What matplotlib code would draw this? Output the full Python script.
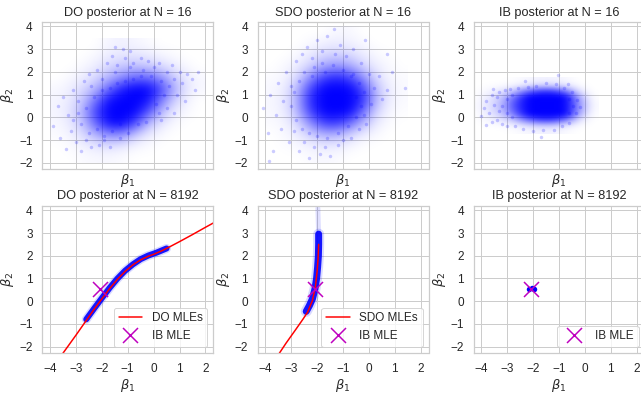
import numpy as np
import matplotlib
matplotlib.use("Agg")
import matplotlib.pyplot as plt
import seaborn as sns

#
# Posterior density levels (0 = empty, 1 = solid blue),
# rows listed top to bottom, cells of 0.5 in beta_1
#

# DO posterior, N = 16: x centres -3.75 .. 1.75, y centres 3.25 .. -1.75
do16_extent = [-4.0, 2.0, -2.0, 3.5]
do16_density = [
    [0, 0, 0, 0, 0.04, 0.06, 0.04, 0.02, 0, 0, 0, 0],
    [0, 0, 0, 0.03, 0.07, 0.10, 0.10, 0.08, 0.04, 0.02, 0, 0],
    [0, 0, 0.03, 0.07, 0.15, 0.22, 0.25, 0.22, 0.15, 0.08, 0.03, 0],
    [0, 0.03, 0.07, 0.15, 0.30, 0.45, 0.60, 0.60, 0.45, 0.22, 0.08, 0.03],
    [0.03, 0.06, 0.15, 0.30, 0.60, 0.90, 1.00, 1.00, 0.75, 0.35, 0.10, 0.03],
    [0.04, 0.08, 0.22, 0.55, 0.95, 1.00, 1.00, 0.95, 0.55, 0.20, 0.05, 0],
    [0.04, 0.10, 0.30, 0.75, 1.00, 1.00, 1.00, 0.70, 0.30, 0.08, 0.03, 0],
    [0.03, 0.08, 0.22, 0.60, 0.95, 1.00, 0.75, 0.30, 0.10, 0.03, 0, 0],
    [0.02, 0.04, 0.14, 0.30, 0.45, 0.45, 0.22, 0.08, 0.03, 0, 0, 0],
    [0, 0.02, 0.05, 0.09, 0.12, 0.09, 0.04, 0.02, 0, 0, 0, 0],
    [0, 0, 0.02, 0.03, 0.03, 0.02, 0, 0, 0, 0, 0, 0],
]

# SDO posterior, N = 16: x centres -3.75 .. 1.25, y centres 3.75 .. -1.75
sdo16_extent = [-4.0, 1.5, -2.0, 4.0]
sdo16_density = [
    [0, 0, 0, 0, 0, 0.03, 0.03, 0, 0, 0, 0],
    [0, 0, 0, 0.03, 0.06, 0.08, 0.06, 0.03, 0, 0, 0],
    [0, 0, 0.03, 0.08, 0.15, 0.18, 0.15, 0.08, 0.03, 0.01, 0],
    [0, 0.03, 0.07, 0.18, 0.35, 0.42, 0.35, 0.18, 0.07, 0.03, 0],
    [0.02, 0.04, 0.15, 0.45, 0.75, 0.85, 0.75, 0.45, 0.15, 0.04, 0.02],
    [0.03, 0.07, 0.28, 0.75, 1.00, 1.00, 1.00, 0.75, 0.28, 0.07, 0.02],
    [0.03, 0.08, 0.32, 0.85, 1.00, 1.00, 1.00, 0.85, 0.30, 0.07, 0.02],
    [0.03, 0.07, 0.28, 0.75, 1.00, 1.00, 1.00, 0.60, 0.18, 0.04, 0.01],
    [0.02, 0.04, 0.15, 0.45, 0.75, 0.80, 0.60, 0.30, 0.08, 0.02, 0],
    [0, 0.03, 0.07, 0.18, 0.30, 0.30, 0.18, 0.07, 0.03, 0, 0],
    [0, 0.01, 0.03, 0.06, 0.08, 0.08, 0.04, 0.01, 0, 0, 0],
    [0, 0, 0, 0.02, 0.03, 0.02, 0, 0, 0, 0, 0],
]

# IB posterior, N = 16: x centres -4.25 .. 0.25, y centres 1.625 .. -0.625 (step 0.25)
ib16_extent = [-4.5, 0.5, -0.75, 1.75]
ib16_density = [
    [0, 0, 0, 0.01, 0.03, 0.05, 0.05, 0.03, 0, 0],
    [0, 0.01, 0.02, 0.05, 0.12, 0.18, 0.18, 0.10, 0.02, 0],
    [0, 0.04, 0.10, 0.25, 0.60, 0.80, 0.80, 0.55, 0.10, 0],
    [0, 0.08, 0.20, 0.55, 1.00, 1.00, 1.00, 1.00, 0.30, 0],
    [0.01, 0.10, 0.25, 0.70, 1.00, 1.00, 1.00, 1.00, 0.40, 0.01],
    [0.01, 0.10, 0.25, 0.70, 1.00, 1.00, 1.00, 1.00, 0.40, 0.01],
    [0, 0.08, 0.20, 0.55, 1.00, 1.00, 1.00, 1.00, 0.30, 0],
    [0, 0.04, 0.10, 0.25, 0.60, 0.80, 0.80, 0.55, 0.10, 0],
    [0, 0.01, 0.02, 0.05, 0.14, 0.20, 0.20, 0.10, 0.02, 0],
    [0, 0, 0, 0.01, 0.03, 0.05, 0.05, 0.02, 0, 0],
]

# single faint samples seen around the dense parts
do16_dots = [(-2.8, -0.3), (-2.6, 0.4), (-2.5, -0.7), (-2.3, 0.9), (-2.2, -0.5), (-2.0, 1.2),
             (-1.9, -0.8), (-1.7, 1.3), (-1.6, -0.6), (-1.4, 1.5), (-1.3, -0.3), (-1.1, 1.6),
             (-0.8, 1.7), (-0.5, 1.8), (-0.1, 1.8), (0.1, 0.6), (0.3, 1.6), (0.4, 1.0),
             (0.6, 1.4), (0.8, 1.7), (0.5, 2.0), (-2.9, 0.2), (-3.1, -0.1), (-1.5, 2.0),
             (-0.9, 2.2), (-2.4, 1.4), (0.2, 0.2),
             (-3.9, -0.4), (-3.7, 0.5), (-3.6, -0.9), (-3.5, 0.9), (-3.4, -1.4), (-3.3, 0.1),
             (-3.2, -0.6), (-3.1, 1.2), (-3.0, -1.1), (-2.9, 0.7), (-2.8, -1.5), (-2.7, 1.6),
             (-2.6, -1.0), (-2.5, 1.9), (-2.4, -1.3), (-2.2, 2.1), (-2.1, -1.2), (-2.0, 1.7),
             (-1.9, -1.0), (-1.8, 2.4), (-1.7, -1.3), (-1.6, 2.7), (-1.5, 3.1), (-1.4, 2.3),
             (-1.3, -0.9), (-1.2, 3.0), (-1.1, 2.6), (-1.0, -0.7), (-0.9, 2.9), (-0.8, 2.4),
             (-0.6, -0.3), (-0.5, 2.6), (-0.4, 2.1), (-0.3, -0.2), (-0.2, 2.5), (0.0, 2.2),
             (0.2, 2.4), (0.3, -0.1), (0.5, 0.4), (0.7, 2.3), (0.9, 1.0), (1.0, 2.0), (1.1, 1.5),
             (1.3, 1.9), (1.5, 1.7), (1.7, 2.0), (1.2, 0.7), (0.8, 0.2), (1.6, 1.2)]
sdo16_dots = [(-3.0, 0.5), (-2.9, 1.1), (-2.8, -0.1), (-2.7, 1.6), (-2.6, -0.5), (-2.5, 2.0),
              (-2.3, -0.7), (-2.1, 2.2), (-2.0, -0.8), (-1.8, 2.4), (-1.6, -0.9), (-1.4, 2.3),
              (-1.2, -0.7), (-1.0, 2.1), (-0.8, -0.4), (-0.6, 1.9), (-0.5, 0.0), (-0.4, 1.5),
              (-0.3, 0.5), (-0.2, 1.1), (-0.5, 0.9), (-1.7, 2.0), (-2.2, 1.8), (-0.7, 1.8),
              (-4.1, 0.4), (-3.9, -0.7), (-3.8, 1.0), (-3.6, 0.1), (-3.5, 1.5), (-3.4, -0.5),
              (-3.3, 0.7), (-3.2, 2.0), (-3.1, -1.1), (-3.0, 1.4), (-2.9, -0.6), (-2.8, 2.5),
              (-2.7, -1.5), (-2.6, 2.8), (-2.5, -1.1), (-2.4, 3.1), (-2.3, -1.8), (-2.2, 2.6),
              (-2.1, -1.3), (-2.0, 3.4), (-1.9, -1.6), (-1.8, 2.9), (-1.7, -1.3), (-1.6, 3.6),
              (-1.5, -1.7), (-1.35, 3.9), (-1.3, 2.8), (-1.2, -1.2), (-1.1, 3.2), (-1.0, -1.0),
              (-0.9, 2.7), (-0.7, -0.9), (-0.6, 3.0), (-0.4, -0.5), (-0.3, 2.4), (-0.2, 0.1),
              (0.0, 1.9), (0.1, 0.6), (0.2, 1.3), (0.4, 1.8), (0.5, 0.8), (0.7, 1.2), (0.9, 2.0),
              (1.4, 1.3), (-0.1, -0.3), (-3.7, -1.5), (-3.85, -1.9), (0.7, 2.8), (-0.15, 3.4)]
ib16_dots = [(-3.2, 0.5), (-3.0, 0.2), (-3.0, 0.8), (-2.8, 0.0), (-2.8, 1.0), (-0.6, 0.2),
             (-0.6, 0.8), (-0.45, 0.5),
             (-4.0, 0.05), (-3.9, 0.4), (-3.8, 0.7), (-3.7, 0.2), (-3.6, 1.0), (-3.6, -0.2),
             (-3.5, 0.55), (-3.4, 0.9), (-3.4, -0.1), (-3.3, 1.1), (-3.3, 0.3), (-3.2, -0.3),
             (-3.1, 1.2), (-3.0, -0.4), (-2.9, 1.25), (-2.7, -0.4), (-2.6, 1.3), (-2.4, -0.5),
             (-2.2, 1.35), (-2.0, -0.6), (-1.9, 1.4), (-1.6, -0.55), (-1.5, 1.5), (-1.2, -0.55),
             (-1.1, 1.45), (-0.9, -0.4), (-0.8, 1.3), (-0.6, -0.25), (-0.5, 1.1), (-0.35, 0.2),
             (-0.3, 0.75), (-0.2, 0.45), (-1.05, 1.85), (-0.65, 1.45), (-1.7, -0.85),
             (-2.3, 1.6), (-3.8, -0.35), (-3.55, 1.25)]

# MLE curves and posterior bands at N = 8192
do_mle_x = [-3.6, -3.0, -2.6, -2.3, -2.0, -1.7, -1.4, -1.1, -0.8, -0.5, -0.2, 0.0, 0.3, 0.6, 1.0, 1.5, 2.0, 2.4]
do_mle_y = [-2.45, -1.5, -0.85, -0.36, 0.1, 0.55, 0.96, 1.31, 1.6, 1.82, 1.98, 2.06, 2.21, 2.38, 2.62, 2.93, 3.25, 3.5]
do8192_x = [-2.6, -2.3, -2.0, -1.7, -1.4, -1.1, -0.8, -0.5, -0.2, 0.1, 0.5]
do8192_y = [-0.8, -0.33, 0.13, 0.58, 0.99, 1.34, 1.62, 1.85, 2.01, 2.13, 2.32]

sdo_mle_x = [-3.55, -3.2, -2.82, -2.55, -2.37, -2.18, -2.07, -2.0, -1.96, -1.94]
sdo_mle_y = [-2.45, -1.85, -1.24, -0.8, -0.49, 0.03, 0.6, 1.3, 1.9, 2.5]
sdo8192_x = [-2.42, -2.3, -2.18, -2.08, -2.02, -1.98, -1.95, -1.94, -1.94]
sdo8192_y = [-0.45, -0.2, 0.1, 0.55, 1.0, 1.5, 2.0, 2.5, 2.95]
sdo8192_tail_x = [-1.94, -1.95, -1.96, -1.97]
sdo8192_tail_y = [2.95, 3.3, 3.7, 4.1]

ib8192_x = [-2.15, -2.05, -1.98]
ib8192_y = [0.55, 0.56, 0.55]

ib_mle = (-2.08, 0.55)

titles = ["DO posterior at N = 16", "SDO posterior at N = 16", "IB posterior at N = 16",
          "DO posterior at N = 8192", "SDO posterior at N = 8192", "IB posterior at N = 8192"]

#
# Figure
#
sns.set_theme(style="whitegrid")
plt.rcParams["font.family"] = ["Liberation Sans", "DejaVu Sans"]

W, H = 641, 393
fig = plt.figure(figsize=(W / 72, H / 72), dpi=72)

lefts = [42.2, 257.5, 473.5]
tops = [21.7, 205.5]
aw, ah = 171, 147.5
magenta = (0.75, 0, 0.75)

axes = []
for r in range(2):
    for c in range(3):
        ax = fig.add_axes([lefts[c] / W, 1 - (tops[r] + ah) / H, aw / W, ah / H])
        ax.set_title(titles[3 * r + c], fontsize=12.8)
        ax.set_xlabel(r"$\beta_1$", fontsize=13, labelpad=3)
        ax.set_ylabel(r"$\beta_2$", fontsize=13, labelpad=3)
        ax.tick_params(labelsize=11.8)
        if r == 0:
            ax.tick_params(labelbottom=False)
        axes.append(ax)


def cloud(ax, density, extent, dots):
    dens = np.clip(np.array(density, dtype=float), 0, 1)
    rgba = np.zeros(dens.shape + (4,))
    rgba[..., 2] = 1.0
    rgba[..., 3] = dens
    ax.imshow(rgba, extent=extent, origin="upper", aspect="auto",
              interpolation="bicubic", zorder=1)
    x, y = zip(*dots)
    ax.scatter(x, y, s=12, color="blue", alpha=0.2, lw=0, zorder=2)


cloud(axes[0], do16_density, do16_extent, do16_dots)
cloud(axes[1], sdo16_density, sdo16_extent, sdo16_dots)
cloud(axes[2], ib16_density, ib16_extent, ib16_dots)

# bottom row
ax = axes[3]
ax.plot(do8192_x, do8192_y, color="blue", lw=9, alpha=0.15, solid_capstyle="round")
ax.plot(do8192_x, do8192_y, color="blue", lw=6, alpha=0.9, solid_capstyle="round")
ax.plot(do_mle_x, do_mle_y, color="red", lw=1.5, label="DO MLEs")
ax.plot(*ib_mle, "x", color=magenta, ms=15, mew=1.5, label="IB MLE")
ax.legend(loc="lower right", fontsize=11.8)

ax = axes[4]
ax.plot(sdo8192_tail_x, sdo8192_tail_y, color="blue", lw=5, alpha=0.12, solid_capstyle="round")
ax.plot(sdo8192_x, sdo8192_y, color="blue", lw=11, alpha=0.15, solid_capstyle="round")
ax.plot(sdo8192_x, sdo8192_y, color="blue", lw=7, alpha=0.9, solid_capstyle="round")
ax.plot(sdo_mle_x, sdo_mle_y, color="red", lw=1.5, label="SDO MLEs")
ax.plot(*ib_mle, "x", color=magenta, ms=15, mew=1.5, label="IB MLE")
ax.legend(loc="lower right", fontsize=11.8)

ax = axes[5]
ax.scatter(ib8192_x, ib8192_y, s=30, color="blue", lw=0)
ax.plot(*ib_mle, "x", color=magenta, ms=15, mew=1.5, label="IB MLE")
ax.legend(loc="lower right", fontsize=11.8)

for ax in axes:
    ax.set_xlim(-4.3, 2.3)
    ax.set_ylim(-2.28, 4.21)
    ax.set_xticks(range(-4, 3))
    ax.set_yticks(range(-2, 5))
    ax.grid(True)

fig.savefig("out.png", dpi=72)
